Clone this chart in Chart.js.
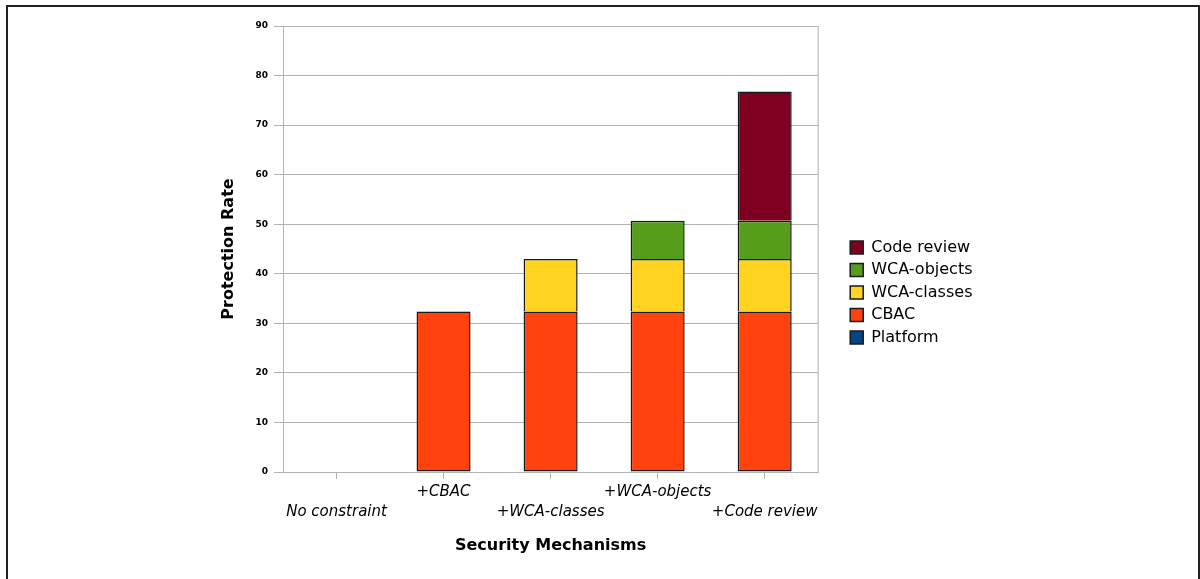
<!DOCTYPE html>
<html>
<head>
<meta charset="utf-8">
<script src="https://cdn.jsdelivr.net/npm/chart.js@4.4.1/dist/chart.umd.min.js"></script>
<style>
    body { margin: 0; background: #fff; overflow: hidden; }
    #wrap { position: relative; width: 1200px; height: 579px; }
    #frame {
        position: absolute; left: 6px; top: 5px; width: 1194px; height: 600px;
        box-sizing: border-box; border: 2px solid #231f20; border-bottom: none;
        pointer-events: none;
    }
</style>
</head>
<body>
<div id="wrap">
    <canvas id="myChart" width="1200" height="579"></canvas>
    <div id="frame"></div>
</div>
<script>
// 資料
var categories = ['No constraint', '+CBAC', '+WCA-classes', '+WCA-objects', '+Code review'];
var platformData = [0, 0, 0, 0, 0];
var cbacData = [0, 32.4, 32.4, 32.4, 32.4];
var wcaClassesData = [0, 0, 10.6, 10.6, 10.6];
var wcaObjectsData = [0, 0, 0, 7.7, 7.7];
var codeReviewData = [0, 0, 0, 0, 26.1];
var yMin = 0, yMax = 90, yStep = 10;

var gridColor = '#b3b3b3';

// 右側框線 + 圖例位置
var framePlugin = {
    id: 'framePlugin',
    afterLayout: function (chart) {
        var lg = chart.legend;
        var newLeft = chart.chartArea.right + 32 - 6.5;
        lg.right = newLeft + lg.width;
        lg.left = newLeft;
    },
    beforeDatasetsDraw: function (chart) {
        var ctx = chart.ctx, a = chart.chartArea;
        ctx.save();
        ctx.strokeStyle = gridColor;
        ctx.lineWidth = 1;
        ctx.beginPath();
        ctx.moveTo(a.right, a.top);
        ctx.lineTo(a.right, a.bottom);
        ctx.stroke();
        ctx.restore();
    }
};

function makeSet(label, data, color) {
    return {
        label: label,
        data: data,
        backgroundColor: color,
        borderColor: '#1a1a1a',
        borderWidth: 1.5,
        // 最底層四邊都畫框，上層只畫上、左、右，避免疊加處出現雙線
        borderSkipped: function (c) { return c.datasetIndex <= 1 ? false : 'start'; },
        barPercentage: 0.505,
        categoryPercentage: 1
    };
}

var ctx = document.getElementById('myChart').getContext('2d');
var myChart = new Chart(ctx, {
    type: 'bar',
    data: {
        labels: categories,
        datasets: [
            makeSet('Platform', platformData, '#004586'),
            makeSet('CBAC', cbacData, '#ff420e'),
            makeSet('WCA-classes', wcaClassesData, '#ffd320'),
            makeSet('WCA-objects', wcaObjectsData, '#579d1c'),
            makeSet('Code review', codeReviewData, '#7e0021')
        ]
    },
    plugins: [framePlugin],
    options: {
        responsive: false,
        animation: false,
        layout: { padding: { left: 215, right: 243, top: 26, bottom: 20 } },
        scales: {
            x: {
                stacked: true,
                afterFit: function (scale) { scale.height = 87; },
                grid: { display: true, drawOnChartArea: false, drawTicks: true, tickLength: 7, offset: false, color: gridColor },
                border: { color: gridColor },
                ticks: {
                    autoSkip: false,
                    maxRotation: 0,
                    padding: 3,
                    color: '#000',
                    font: { family: 'DejaVu Sans', style: 'italic', size: 15, lineHeight: 1.33 },
                    callback: function (value, index) {
                        var label = this.getLabelForValue(value);
                        return index % 2 === 0 ? ['', label] : [label, ''];
                    }
                },
                title: {
                    display: true,
                    text: 'Security Mechanisms',
                    color: '#000',
                    padding: { top: 4, bottom: 4 },
                    font: { family: 'DejaVu Sans', weight: 'bold', size: 16 }
                }
            },
            y: {
                stacked: true,
                min: yMin,
                max: yMax,
                afterFit: function (scale) { scale.width = 68; },
                grid: { color: gridColor, tickLength: 9 },
                border: { color: gridColor },
                ticks: {
                    stepSize: yStep,
                    padding: 6,
                    color: '#000',
                    font: { family: 'DejaVu Sans', weight: 'bold', size: 9 }
                },
                title: {
                    display: true,
                    text: 'Protection Rate',
                    color: '#000',
                    padding: { top: 4, bottom: 4 },
                    font: { family: 'DejaVu Sans', weight: 'bold', size: 16 }
                }
            }
        },
        plugins: {
            tooltip: { enabled: false },
            legend: {
                position: 'right',
                reverse: true,
                labels: {
                    boxWidth: 13,
                    boxHeight: 13,
                    padding: 6.5,
                    color: '#000',
                    font: { family: 'DejaVu Sans', size: 16 }
                }
            }
        }
    }
});
</script>
</body>
</html>
